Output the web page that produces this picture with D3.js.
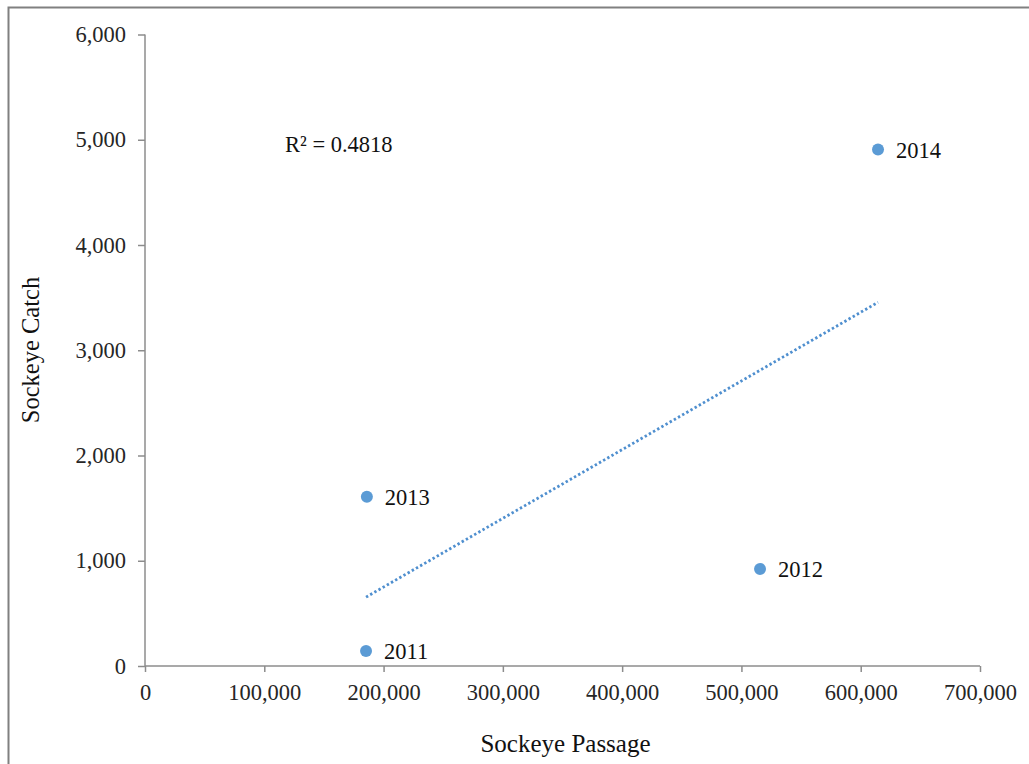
<!DOCTYPE html>
<html>
<head>
<meta charset="utf-8">
<script src="https://cdn.jsdelivr.net/npm/d3@7"></script>
<style>
html,body{margin:0;padding:0;background:#fff;}
svg{display:block;}
text{font-family:"Liberation Serif","Times New Roman",serif;}
</style>
</head>
<body>
<svg id="chart" width="1029" height="764"></svg>
<script>
// Data
const years = ["2011", "2012", "2013", "2014"];
const passage = [185300, 515600, 186000, 614500];
const catchVals = [143, 922, 1607, 4907];
const xTicks = [0, 100000, 200000, 300000, 400000, 500000, 600000, 700000];
const yTicks = [0, 1000, 2000, 3000, 4000, 5000, 6000];
const rSquaredLabel = "R\u00b2 = 0.4818";
const xTitle = "Sockeye Passage";
const yTitle = "Sockeye Catch";

const svg = d3.select("#chart");
const W = 1029, H = 764;
const plot = {left: 145, right: 980, top: 34.5, bottom: 666};

// frame (only left and top edges visible in reference)
svg.append("path")
  .attr("d", `M8.5,${H} L8.5,7.5 L${W},7.5`)
  .attr("fill", "none").attr("stroke", "#808080").attr("stroke-width", 2);

const x = d3.scaleLinear().domain([0, 700000]).range([plot.left, plot.right]);
const y = d3.scaleLinear().domain([0, 6000]).range([plot.bottom, plot.top]);
const fmt = d3.format(",");
const axisColor = "#8c8c8c";
const fs = 22.5;

const gx = svg.append("g").attr("transform", `translate(0,${plot.bottom})`)
  .call(d3.axisBottom(x).tickValues(xTicks).tickFormat(fmt).tickSize(6).tickPadding(12));
const gy = svg.append("g").attr("transform", `translate(${plot.left},0)`)
  .call(d3.axisLeft(y).tickValues(yTicks).tickFormat(fmt).tickSize(7).tickPadding(12));
[gx, gy].forEach(g => {
  g.select(".domain").attr("stroke", axisColor).attr("stroke-width", 1.5);
  g.selectAll(".tick line").attr("stroke", axisColor).attr("stroke-width", 1.5);
  g.selectAll(".tick text").attr("fill", "#262626")
    .style("font-family", '"Liberation Serif","Times New Roman",serif')
    .style("font-size", fs + "px");
});
gy.select(".domain").attr("d", `M0,${plot.bottom}V${plot.top}`);
gx.select(".domain").attr("d", `M${plot.left},0H${plot.right}`);

// Linear regression trendline
const n = passage.length;
const mx = d3.mean(passage), my = d3.mean(catchVals);
let sxy = 0, sxx = 0;
for (let i = 0; i < n; i++) {
  sxy += (passage[i] - mx) * (catchVals[i] - my);
  sxx += (passage[i] - mx) ** 2;
}
const slope = sxy / sxx, intercept = my - slope * mx;
const [x0, x1] = d3.extent(passage);
svg.append("line")
  .attr("x1", x(x0)).attr("y1", y(intercept + slope * x0))
  .attr("x2", x(x1)).attr("y2", y(intercept + slope * x1))
  .attr("stroke", "#4f8fcf").attr("stroke-width", 2.8)
  .attr("stroke-dasharray", "2.4,2.4");

// Points
const pts = years.map((yr, i) => ({yr, px: passage[i], cy: catchVals[i]}));
svg.append("g").selectAll("circle").data(pts).join("circle")
  .attr("cx", d => x(d.px)).attr("cy", d => y(d.cy)).attr("r", 6)
  .attr("fill", "#5b9bd5");
svg.append("g").selectAll("text").data(pts).join("text")
  .attr("x", d => x(d.px) + 18).attr("y", d => y(d.cy) + 8)
  .attr("font-size", fs).attr("fill", "#111")
  .text(d => d.yr);

// R squared
svg.append("text").attr("x", 285).attr("y", 152)
  .attr("font-size", fs).attr("fill", "#111").text(rSquaredLabel);

// Axis titles
svg.append("text").attr("x", (plot.left + plot.right) / 2 + 3).attr("y", 752)
  .attr("text-anchor", "middle").attr("font-size", 25).attr("fill", "#111").text(xTitle);
svg.append("text").attr("transform", `translate(39,350) rotate(-90)`)
  .attr("text-anchor", "middle").attr("font-size", 24.5).attr("fill", "#111").text(yTitle);
</script>
</body>
</html>
